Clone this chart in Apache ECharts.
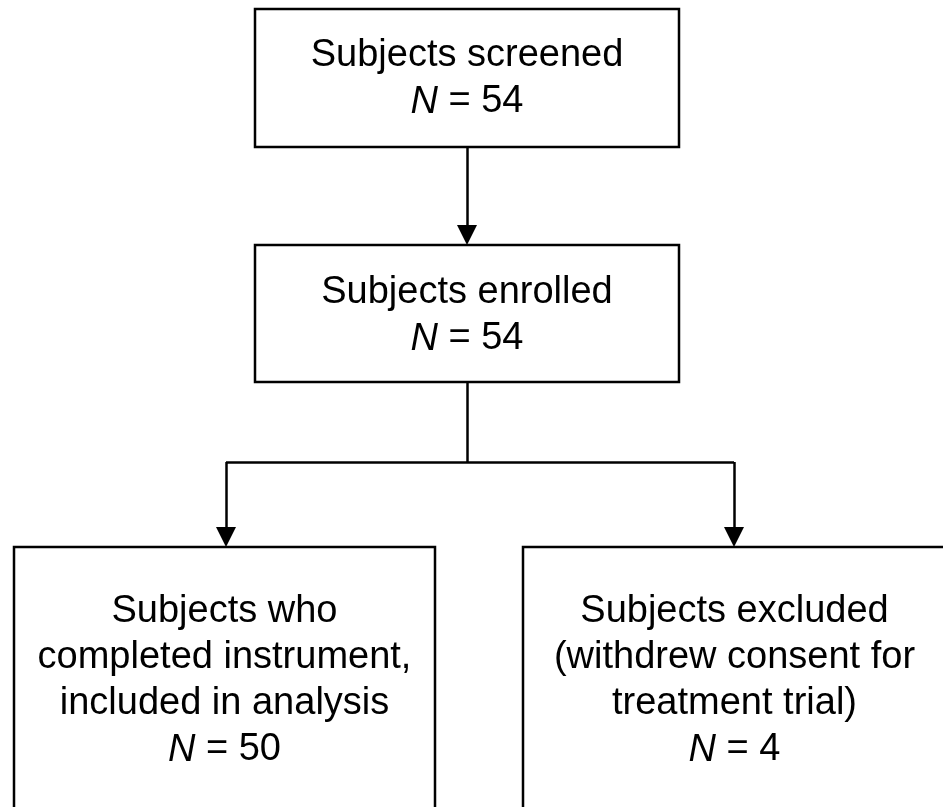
<!DOCTYPE html>
<html>
<head>
<meta charset="utf-8">
<script src="https://cdn.jsdelivr.net/npm/echarts@6/dist/echarts.min.js"></script>
<style>
    html, body { margin: 0; padding: 0; background: #fff; }
    #flow_chart { width: 943px; height: 807px; }
</style>
</head>
<body>
<div id="flow_chart"></div>
<script>
// 方框文字，{i|N} 为斜体
const boxLabels = [
    'Subjects screened\n{i|N} = 54',
    'Subjects enrolled\n{i|N} = 54',
    'Subjects who\ncompleted instrument,\nincluded in analysis\n{i|N} = 50',
    'Subjects excluded\n(withdrew consent for\ntreatment trial)\n{i|N} = 4'
];
// 方框边界（画布坐标，y 向下）
const boxLeft = [255, 255, 14, 523];
const boxRight = [679, 679, 435, 946];
const boxTop = [9, 245, 547, 547];
const boxBottom = [147, 382, 815, 815];
const textCenterY = [79, 316, 681, 681];

// 连接线（折线，最后一段带箭头）
const connectors = [
    [[467, 147], [467, 245]],
    [[467, 382], [467, 462], [226, 462], [226, 547]],
    [[467, 462], [734, 462], [734, 547]]
];

const FONT = 'Liberation Sans, Arial, sans-serif';
const ARROW = 20;

// 拆分成线段：最后一段画箭头（箭头以端点为中心，所以往回缩半个箭头）
const plainSegs = [];
const arrowSegs = [];
connectors.forEach(c => {
    for (let k = 0; k < c.length - 1; k++) {
        const a = c[k], b = c[k + 1];
        if (k === c.length - 2) {
            const len = Math.hypot(b[0] - a[0], b[1] - a[1]);
            const end = [b[0] - (b[0] - a[0]) / len * ARROW / 2, b[1] - (b[1] - a[1]) / len * ARROW / 2];
            arrowSegs.push({ coords: [a, end] });
        } else {
            plainSegs.push({ coords: [a, b] });
        }
    }
});

const chart = echarts.init(document.getElementById('flow_chart'));

const option = {
    animation: false,
    grid: { left: 0, right: 0, top: 0, bottom: 0 },
    xAxis: { type: 'value', min: 0, max: 943, show: false },
    yAxis: { type: 'value', min: 0, max: 807, inverse: true, show: false },
    series: [
        {
            type: 'custom',
            coordinateSystem: 'cartesian2d',
            clip: false,
            data: boxLabels.map((t, i) => [boxLeft[i], boxTop[i], boxRight[i], boxBottom[i], textCenterY[i], i]),
            renderItem: (params, api) => {
                const p0 = api.coord([api.value(0), api.value(1)]);
                const p1 = api.coord([api.value(2), api.value(3)]);
                const tc = api.coord([(api.value(0) + api.value(2)) / 2, api.value(4)]);
                const idx = api.value(5);
                return {
                    type: 'group',
                    children: [
                        {
                            type: 'rect',
                            shape: { x: p0[0], y: p0[1], width: p1[0] - p0[0], height: p1[1] - p0[1] },
                            style: { fill: '#fff', stroke: '#000', lineWidth: 2.5 }
                        },
                        {
                            type: 'text',
                            x: tc[0],
                            y: tc[1],
                            style: {
                                text: boxLabels[idx],
                                fill: '#000',
                                fontSize: 38,
                                fontFamily: FONT,
                                lineHeight: 46,
                                align: 'center',
                                verticalAlign: 'middle',
                                rich: {
                                    i: { fontStyle: 'italic', fontSize: 38, fontFamily: FONT, lineHeight: 46, fill: '#000' }
                                }
                            }
                        }
                    ]
                };
            }
        },
        {
            type: 'lines',
            coordinateSystem: 'cartesian2d',
            z: 5,
            symbol: 'none',
            lineStyle: { color: '#000', width: 2.5, opacity: 1 },
            data: plainSegs
        },
        {
            type: 'lines',
            coordinateSystem: 'cartesian2d',
            z: 5,
            symbol: ['none', 'triangle'],
            symbolSize: ARROW,
            lineStyle: { color: '#000', width: 2.5, opacity: 1 },
            itemStyle: { color: '#000' },
            data: arrowSegs
        }
    ]
};

chart.setOption(option);
</script>
</body>
</html>
